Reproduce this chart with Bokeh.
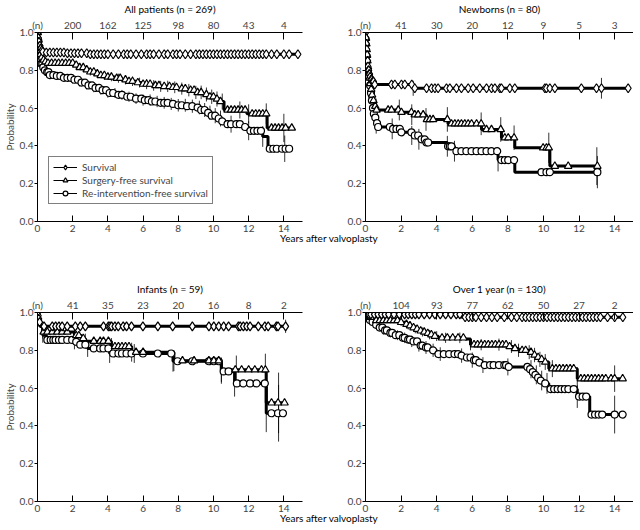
import numpy as np
from bokeh.plotting import figure
from bokeh.models import (Range1d, LinearAxis, FixedTicker, PrintfTickFormatter,
                          Legend, LegendItem, Div)
from bokeh.layouts import row, column
from bokeh.embed import file_html
from bokeh.resources import INLINE

FONT = "Lato"
X_END = 15.06
X_TICKS = [0, 2, 4, 6, 8, 10, 12, 14]
Y_TICKS = [0.0, 0.2, 0.4, 0.6, 0.8, 1.0]
XLABEL = "Years after valvoplasty"
YLABEL = "Probability"
LEGEND_LABELS = ["Survival", "Surgery-free survival", "Re-intervention-free survival"]

# ---------------- All patients ----------------
ALL_TITLE = "All patients (n = 269)"
ALL_N = ["(n)", "200", "162", "125", "98", "80", "43", "4"]
ALL_SURV_T = [0, 0.03, 0.06, 0.1, 0.15, 0.2, 0.3, 0.5, 1.6, 3.0]
ALL_SURV_S = [1.0, 0.97, 0.95, 0.93, 0.915, 0.905, 0.898, 0.894, 0.89, 0.885]
ALL_SURV_END = 14.8
ALL_SURV_MARK = [0.01, 0.02, 0.04, 0.05, 0.07, 0.08, 0.12, 0.14, 0.17, 0.19, 0.25,
                 0.3, 0.5, 0.7, 0.9, 1.1, 1.3, 1.5, 1.7, 1.9, 2.1, 2.3, 2.5, 2.8, 3.0, 3.2,
                 3.4, 3.6, 3.8, 4.0, 4.3, 4.6, 4.9, 5.1, 5.3, 5.6, 5.9, 6.2, 6.4, 6.6, 6.9,
                 7.2, 7.4, 7.7, 7.9, 8.1, 8.4, 8.7, 9.0, 9.2, 9.4, 9.6, 9.8, 10.0, 10.2,
                 10.4, 10.6, 10.8, 11.0, 11.2, 11.4, 11.6, 11.8, 12.0, 12.2, 12.4, 12.6,
                 12.8, 13.0, 13.3, 13.6, 14.0, 14.3, 14.8]
ALL_SURV_ERR_T = []
ALL_SURV_ERR_H = []

ALL_SURG_T = [0, 0.03, 0.06, 0.1, 0.15, 0.2, 0.3, 0.4, 0.5, 2.1, 2.4, 2.7, 3.0, 3.3,
              3.6, 4.0, 4.4, 4.8, 5.2, 5.6, 6.0, 6.5, 7.0, 7.6, 8.0, 8.5, 9.0, 9.4,
              9.8, 10.1, 10.4, 10.6, 11.9, 13.05]
ALL_SURG_S = [1.0, 0.96, 0.93, 0.905, 0.885, 0.87, 0.855, 0.845, 0.838, 0.828, 0.815,
              0.803, 0.792, 0.782, 0.773, 0.765, 0.758, 0.75, 0.742, 0.735, 0.727,
              0.72, 0.715, 0.71, 0.703, 0.695, 0.683, 0.672, 0.66, 0.648, 0.635,
              0.59, 0.57, 0.495]
ALL_SURG_END = 14.45
ALL_SURG_MARK = [0.02, 0.04, 0.08, 0.12, 0.17, 0.25, 0.35, 0.45,
                 0.6, 0.8, 1.0, 1.2, 1.4, 1.6, 1.8, 2.0, 2.2, 2.4, 2.6, 2.8, 3.0, 3.2,
                 3.4, 3.6, 3.8, 4.0, 4.2, 4.5, 4.7, 5.0, 5.2, 5.4, 5.7, 6.0, 6.2, 6.4,
                 6.7, 6.9, 7.2, 7.5, 7.7, 7.9, 8.2, 8.4, 8.7, 8.9, 9.1, 9.3, 9.6, 9.8,
                 10.0, 10.2, 10.4, 10.8, 11.0, 11.2, 11.4, 11.6, 11.8, 12.2, 12.4,
                 12.6, 12.8, 13.0, 13.3, 13.5, 13.7, 13.9, 14.1, 14.45]
ALL_SURG_ERR_T = [2.2, 2.6, 3.0, 3.4, 3.8, 4.2, 4.6, 5.0, 5.4, 5.8, 6.2, 6.6, 7.0, 7.4,
                  7.8, 8.2, 8.6, 9.0, 9.3, 9.6, 9.9, 10.2, 10.5, 11.5, 12.0, 13.0, 14.0]
ALL_SURG_ERR_H = [0.02, 0.02, 0.02, 0.022, 0.022, 0.023, 0.024, 0.025, 0.025, 0.026,
                  0.027, 0.028, 0.029, 0.03, 0.031, 0.032, 0.033, 0.035, 0.036, 0.037,
                  0.038, 0.04, 0.042, 0.045, 0.05, 0.055, 0.075]

ALL_REINT_T = [0, 0.03, 0.06, 0.1, 0.15, 0.2, 0.3, 0.4, 0.5, 0.7, 1.0, 1.5, 2.0, 2.4,
               2.8, 3.2, 3.6, 4.0, 4.5, 5.0, 5.5, 6.0, 6.5, 7.0, 7.5, 8.0, 8.5, 9.0,
               9.3, 9.6, 9.9, 10.2, 10.5, 10.7, 11.6, 12.0, 12.8, 13.1]
ALL_REINT_S = [1.0, 0.955, 0.92, 0.885, 0.855, 0.835, 0.815, 0.8, 0.79, 0.775, 0.77,
               0.76, 0.75, 0.735, 0.72, 0.707, 0.695, 0.68, 0.67, 0.66, 0.65, 0.642,
               0.635, 0.628, 0.622, 0.615, 0.61, 0.603, 0.59, 0.575, 0.56, 0.545,
               0.53, 0.515, 0.50, 0.48, 0.45, 0.385]
ALL_REINT_END = 14.3
ALL_REINT_MARK = [0.05, 0.09, 0.13, 0.18, 0.22, 0.28, 0.33, 0.42, 0.55, 0.62,
                  0.7, 0.9, 1.1, 1.3, 1.5, 1.7, 1.9, 2.1, 2.3, 2.5, 2.7, 2.9, 3.1, 3.3,
                  3.5, 3.7, 3.9, 4.1, 4.3, 4.6, 4.8, 5.1, 5.3, 5.6, 5.9, 6.1, 6.3, 6.5,
                  6.7, 7.0, 7.2, 7.4, 7.7, 8.0, 8.2, 8.5, 8.8, 9.1, 9.3, 9.5, 9.7, 9.9,
                  10.1, 10.3, 10.5, 10.8, 11.0, 11.3, 11.5, 11.8, 12.1, 12.3, 12.5,
                  12.7, 13.2, 13.4, 13.6, 13.9, 14.1, 14.3]
ALL_REINT_ERR_T = [1.5, 2.0, 2.4, 2.8, 3.2, 3.6, 4.0, 4.4, 4.8, 5.2, 5.6, 6.0, 6.4,
                   6.8, 7.2, 7.6, 8.0, 8.4, 8.8, 9.2, 9.5, 9.8, 10.1, 10.4, 11.0, 12.0,
                   12.8, 14.05]
ALL_REINT_ERR_H = [0.02, 0.02, 0.021, 0.022, 0.023, 0.024, 0.025, 0.026, 0.026, 0.027,
                   0.028, 0.029, 0.03, 0.03, 0.031, 0.032, 0.033, 0.034, 0.035, 0.036,
                   0.037, 0.038, 0.04, 0.042, 0.045, 0.05, 0.055, 0.07]

# ---------------- Newborns ----------------
NB_TITLE = "Newborns (n = 80)"
NB_N = ["(n)", "41", "30", "20", "12", "9", "5", "3"]
NB_SURV_T = [0, 0.02, 0.04, 0.06, 0.08, 0.1, 0.13, 0.16, 0.2, 0.25, 0.3, 0.4, 0.5, 2.68]
NB_SURV_S = [1.0, 0.97, 0.94, 0.91, 0.88, 0.85, 0.82, 0.8, 0.78, 0.765, 0.75, 0.74,
             0.725, 0.705]
NB_SURV_END = 14.76
NB_SURV_MARK = [0.01, 0.02, 0.03, 0.04, 0.05, 0.06, 0.07, 0.08, 0.09, 0.1, 0.12, 0.14,
                0.16, 0.18, 0.2, 0.23, 0.26, 0.3, 0.35, 0.4, 0.45,
                0.52, 1.46, 1.65, 2.02, 2.21, 2.6, 2.77, 3.43, 3.71, 3.90, 4.08, 4.55,
                4.74, 5.11, 5.39, 5.77, 6.05, 6.42, 6.80, 7.08, 7.27, 7.55, 7.64, 8.11,
                8.39, 10.08, 10.17, 10.36, 10.64, 12.13, 12.98, 13.26, 14.76]
NB_SURV_ERR_T = [0.3, 2.68, 13.26]
NB_SURV_ERR_H = [0.05, 0.04, 0.055]

NB_SURG_T = [0, 0.02, 0.04, 0.06, 0.08, 0.1, 0.13, 0.16, 0.2, 0.25, 0.3, 0.35, 0.4,
             0.5, 0.6, 2.0, 2.6, 3.4, 4.64, 6.52, 7.64, 8.39, 10.36]
NB_SURG_S = [1.0, 0.97, 0.94, 0.91, 0.88, 0.85, 0.82, 0.79, 0.76, 0.73, 0.7, 0.67,
             0.64, 0.61, 0.59, 0.578, 0.565, 0.54, 0.517, 0.487, 0.443, 0.39, 0.293]
NB_SURG_END = 13.03
NB_SURG_MARK = [0.03, 0.05, 0.07, 0.09, 0.11, 0.14, 0.17, 0.22, 0.27, 0.32, 0.37,
                0.45, 0.55, 0.62, 1.27, 1.46, 1.84, 2.02, 2.58, 2.77, 2.96, 3.24,
                3.45, 3.62, 3.80, 4.6, 4.83, 5.02, 5.21, 5.39, 5.58, 5.77, 5.96, 6.24,
                6.5, 6.80, 7.08, 7.6, 7.83, 8.02, 8.35, 9.98, 10.17, 10.3, 10.64,
                11.39, 13.03]
NB_SURG_ERR_T = [0.6, 1.9, 2.6, 3.4, 4.6, 6.5, 7.6, 8.35, 10.3, 13.0]
NB_SURG_ERR_H = [0.06, 0.055, 0.055, 0.06, 0.065, 0.06, 0.065, 0.065, 0.08, 0.1]

NB_REINT_T = [0, 0.02, 0.04, 0.06, 0.08, 0.1, 0.13, 0.16, 0.2, 0.25, 0.3, 0.35, 0.4,
              0.45, 0.5, 0.6, 0.7, 1.5, 2.0, 2.6, 3.0, 3.4, 4.6, 5.0, 7.45, 8.39]
NB_REINT_S = [1.0, 0.97, 0.94, 0.91, 0.88, 0.85, 0.82, 0.79, 0.76, 0.72, 0.68, 0.64,
              0.6, 0.57, 0.55, 0.52, 0.5, 0.49, 0.472, 0.455, 0.435, 0.418, 0.398,
              0.372, 0.325, 0.261]
NB_REINT_END = 13.03
NB_REINT_MARK = [0.26, 0.31, 0.36, 0.42, 0.47, 0.55, 0.65,
                 0.71, 1.37, 1.55, 1.74, 1.93, 2.02, 2.58, 2.77, 2.96, 3.15, 3.33,
                 3.43, 3.52, 4.64, 4.74, 4.83, 5.11, 5.39, 5.67, 5.96, 6.24, 6.52,
                 6.80, 7.08, 7.4, 7.64, 7.83, 8.02, 8.35, 9.89, 10.17, 10.36, 13.03]
NB_REINT_ERR_T = [0.6, 1.5, 2.6, 3.0, 4.6, 5.0, 7.45, 13.03]
NB_REINT_ERR_H = [0.055, 0.055, 0.05, 0.055, 0.055, 0.055, 0.06, 0.085]

# ---------------- Infants ----------------
INF_TITLE = "Infants (n = 59)"
INF_N = ["(n)", "41", "35", "23", "20", "16", "8", "2"]
INF_SURV_T = [0, 0.03, 0.06, 0.1, 0.15]
INF_SURV_S = [1.0, 0.983, 0.966, 0.949, 0.927]
INF_SURV_END = 14.1
INF_SURV_MARK = [0.01, 0.04, 0.07, 0.12, 0.37, 0.84, 1.03, 1.22, 1.40, 1.69, 2.15,
                 2.43, 2.72, 3.75, 4.03, 4.12, 4.21, 4.40, 4.59, 4.87, 5.06, 5.34,
                 5.99, 6.84, 7.68, 8.80, 9.74, 10.02, 10.30, 10.58, 10.86, 11.42,
                 11.52, 11.70, 11.89, 12.08, 12.55, 12.92, 13.11, 13.58, 13.67, 14.1]
INF_SURV_ERR_T = [14.1]
INF_SURV_ERR_H = [0.035]

INF_SURG_T = [0, 0.03, 0.06, 0.1, 0.15, 0.3, 2.1, 2.5, 2.72, 4.2, 5.35, 7.75, 10.45,
              13.0]
INF_SURG_S = [1.0, 0.983, 0.966, 0.949, 0.927, 0.897, 0.878, 0.863, 0.848, 0.82,
              0.79, 0.745, 0.697, 0.522]
INF_SURG_END = 14.1
INF_SURG_MARK = [0.35, 0.56, 0.84, 1.12, 1.40, 1.69, 2.2, 2.35, 2.6, 3.2, 3.56, 3.75,
                 4.03, 4.4, 4.6, 4.8, 5.0, 5.2, 5.6, 6.0, 8.24, 8.9, 9.74, 10.02,
                 10.3, 11.24, 11.6, 12.0, 12.35, 12.73, 12.95, 13.3, 13.67, 14.04]
INF_SURG_ERR_T = [0.3, 2.1, 2.72, 4.2, 5.35, 7.75, 10.45, 11.3, 12.95, 13.7]
INF_SURG_ERR_H = [0.035, 0.04, 0.04, 0.045, 0.05, 0.055, 0.065, 0.075, 0.085, 0.16]

INF_REINT_T = [0, 0.03, 0.06, 0.1, 0.15, 0.3, 0.5, 2.1, 2.3, 2.85, 4.1, 7.7, 10.45,
               11.2, 13.0]
INF_REINT_S = [1.0, 0.983, 0.966, 0.949, 0.927, 0.88, 0.855, 0.845, 0.83, 0.81,
               0.783, 0.742, 0.688, 0.625, 0.467]
INF_REINT_END = 14.1
INF_REINT_MARK = [0.56, 0.75, 0.9, 1.03, 1.22, 1.40, 1.69, 1.97, 2.2, 2.43, 2.72, 3.2,
                  3.56, 3.75, 4.03, 4.3, 4.6, 4.8, 5.06, 5.34, 5.99, 6.84, 7.6, 7.96,
                  8.8, 9.74, 10.02, 10.30, 10.58, 10.86, 11.33, 11.70, 12.08, 12.45,
                  12.92, 13.3, 13.67, 13.95]
INF_REINT_ERR_T = [0.3, 2.1, 2.85, 4.1, 5.5, 7.7, 10.45, 11.2, 13.0, 13.7]
INF_REINT_ERR_H = [0.04, 0.04, 0.045, 0.05, 0.05, 0.055, 0.065, 0.07, 0.1, 0.15]

# ---------------- Over 1 year ----------------
OV_TITLE = "Over 1 year (n = 130)"
OV_N = ["(n)", "104", "93", "77", "62", "50", "27", "2"]
OV_SURV_T = [0, 0.05, 0.15, 5.4]
OV_SURV_S = [1.0, 0.995, 0.99, 0.975]
OV_SURV_END = 14.46
OV_SURV_MARK = [0.05, 0.1, 0.2, 0.3, 0.5, 0.7, 0.9, 1.1, 1.3, 1.6, 1.9, 2.2, 2.4, 2.6,
                2.8, 3.0, 3.3, 3.6, 3.9, 4.2, 4.5, 4.8, 5.1, 5.3, 5.6, 5.8, 6.0, 6.2,
                6.5, 6.8, 7.1, 7.4, 7.8, 8.2, 8.5, 8.8, 9.0, 9.2, 9.4, 9.6, 9.8, 10.0,
                10.2, 10.4, 10.6, 10.8, 11.0, 11.2, 11.4, 11.6, 11.8, 12.0, 12.2,
                12.4, 12.6, 12.8, 13.0, 13.2, 13.6, 14.0, 14.46]
OV_SURV_ERR_T = []
OV_SURV_ERR_H = []

OV_SURG_T = [0, 0.05, 0.1, 0.2, 0.35, 0.5, 1.9, 2.2, 2.4, 2.6, 2.8, 3.0, 3.2, 3.4,
             3.6, 3.8, 4.1, 5.6, 5.9, 8.0, 8.3, 8.6, 9.2, 9.4, 9.6, 9.8, 10.0, 10.3,
             11.9]
OV_SURG_S = [1.0, 0.992, 0.985, 0.975, 0.965, 0.958, 0.948, 0.938, 0.93, 0.92, 0.912,
             0.903, 0.897, 0.89, 0.883, 0.875, 0.866, 0.86, 0.83, 0.82, 0.81, 0.8,
             0.79, 0.775, 0.763, 0.752, 0.738, 0.703, 0.65]
OV_SURG_END = 14.45
OV_SURG_MARK = [0.1, 0.3, 0.6, 0.8, 1.0, 1.2, 1.4, 1.6, 1.8, 2.0, 2.3, 2.5, 2.7, 2.9,
                3.1, 3.3, 3.5, 3.7, 3.9, 4.3, 4.6, 4.9, 5.2, 5.5, 6.1, 6.3, 6.5, 6.7,
                6.9, 7.1, 7.3, 7.5, 7.7, 7.9, 8.1, 8.4, 8.8, 9.0, 9.3, 9.5, 9.7, 9.9,
                10.1, 10.5, 10.7, 10.9, 11.1, 11.3, 11.5, 11.7, 12.1, 12.3, 12.5,
                12.7, 12.9, 13.1, 13.3, 13.5, 13.8, 14.0, 14.45]
OV_SURG_ERR_T = [2.0, 2.4, 2.8, 3.2, 3.6, 4.0, 4.5, 5.3, 5.9, 6.5, 7.5, 8.2, 8.6, 9.2,
                 9.5, 9.8, 10.1, 10.5, 11.9, 14.0]
OV_SURG_ERR_H = [0.02, 0.02, 0.022, 0.024, 0.025, 0.026, 0.027, 0.028, 0.03, 0.03,
                 0.032, 0.034, 0.035, 0.037, 0.038, 0.04, 0.042, 0.045, 0.06, 0.07]

OV_REINT_T = [0, 0.05, 0.1, 0.2, 0.3, 0.5, 0.7, 1.0, 1.3, 1.6, 2.0, 2.3, 2.6, 3.0,
              3.3, 3.6, 4.0, 5.3, 5.6, 6.0, 6.3, 6.6, 8.0, 9.2, 9.35, 9.5, 9.65, 9.8,
              10.0, 10.3, 11.9, 12.6]
OV_REINT_S = [1.0, 0.985, 0.975, 0.96, 0.95, 0.935, 0.92, 0.905, 0.892, 0.88, 0.866,
              0.857, 0.847, 0.825, 0.815, 0.8, 0.78, 0.772, 0.762, 0.748, 0.735,
              0.722, 0.712, 0.7, 0.685, 0.67, 0.655, 0.64, 0.625, 0.595, 0.555, 0.46]
OV_REINT_END = 14.45
OV_REINT_MARK = [0.15, 0.25, 0.4, 0.6, 0.8, 0.95, 1.1, 1.2, 1.4, 1.5, 1.7, 1.9, 2.1,
                 2.2, 2.4, 2.5, 2.7, 2.9, 3.1, 3.2, 3.4, 3.5, 3.8, 4.1, 4.4, 4.7, 5.0,
                 5.2, 5.4, 5.7, 5.9, 6.1, 6.2, 6.4, 6.7, 7.0, 7.2, 7.5, 7.8, 7.9,
                 8.05, 9.1, 9.25, 9.4, 9.55, 9.7, 9.85, 10.1, 10.4, 10.6, 10.8, 11.0,
                 11.2, 11.4, 11.7, 12.0, 12.2, 12.4, 12.7, 12.9, 13.1, 13.3, 14.0,
                 14.45]
OV_REINT_ERR_T = [0.6, 1.0, 1.4, 1.8, 2.2, 2.6, 3.0, 3.4, 3.8, 4.2, 5.4, 6.0, 6.6,
                  8.0, 9.3, 9.6, 9.9, 10.2, 11.9, 14.0]
OV_REINT_ERR_H = [0.02, 0.022, 0.024, 0.026, 0.028, 0.03, 0.032, 0.034, 0.035, 0.036,
                  0.038, 0.04, 0.042, 0.045, 0.048, 0.05, 0.052, 0.055, 0.06, 0.1]


def step_at(T, S, t):
    T = np.asarray(T, dtype=float)
    S = np.asarray(S, dtype=float)
    t = np.asarray(t, dtype=float)
    idx = np.searchsorted(T, t, side="right") - 1
    return S[np.clip(idx, 0, len(S) - 1)]


MARKER_STYLE = {
    "surv": dict(marker="diamond", size=9.0),
    "surg": dict(marker="triangle", size=7.5),
    "reint": dict(marker="circle", size=7.0),
}


def make_panel(title, n_labels, curves, frame_w, min_left, min_right, min_top,
               min_bottom, ylabel, legend=False):
    p = figure(frame_width=frame_w, frame_height=189,
               x_range=Range1d(0, X_END), y_range=Range1d(0, 1.0),
               output_backend="svg", toolbar_location=None, title=title,
               min_border_left=min_left, min_border_right=min_right,
               min_border_top=min_top, min_border_bottom=min_bottom)
    p.outline_line_color = None
    p.xgrid.visible = False
    p.ygrid.visible = False
    p.title.align = "center"
    p.title.text_font = FONT
    p.title.text_font_size = "10px"
    p.title.text_font_style = "normal"
    p.title.text_color = "black"
    p.title.standoff = 1

    # bottom axis
    xa = p.xaxis[0]
    xa.ticker = FixedTicker(ticks=X_TICKS)
    xa.major_tick_in = 6
    xa.major_tick_out = 0
    xa.minor_tick_line_color = None
    xa.major_label_standoff = 3
    xa.major_label_text_font = FONT
    xa.major_label_text_font_size = "10px"
    xa.axis_line_color = "black"
    xa.major_tick_line_color = "black"

    # left axis
    ya = p.yaxis[0]
    ya.ticker = FixedTicker(ticks=Y_TICKS)
    ya.formatter = PrintfTickFormatter(format="%.1f")
    ya.major_tick_in = 0
    ya.major_tick_out = 3
    ya.minor_tick_line_color = None
    ya.major_label_standoff = 1
    ya.major_label_text_font = FONT
    ya.major_label_text_font_size = "10px"
    if ylabel:
        ya.axis_label = YLABEL
        ya.axis_label_text_font = FONT
        ya.axis_label_text_font_size = "10px"
        ya.axis_label_text_font_style = "normal"
        ya.axis_label_standoff = 1

    # top axis with numbers at risk
    ta = LinearAxis(ticker=FixedTicker(ticks=X_TICKS),
                    major_label_overrides={t: lab for t, lab in zip(X_TICKS, n_labels)})
    ta.major_tick_in = 7
    ta.major_tick_out = 0
    ta.minor_tick_line_color = None
    ta.major_label_standoff = 2
    ta.major_label_text_font = FONT
    ta.major_label_text_font_size = "10px"
    p.add_layout(ta, "above")

    marker_r = {}
    thin_r = {}
    # thin copies of the curves (used as legend line samples), under everything
    for kind, T, S, end, marks, et, eh in curves:
        xs = list(T) + [end]
        ys = list(S) + [S[-1]]
        thin_r[kind] = p.step(x=xs, y=ys, mode="after", line_color="black",
                              line_width=1)
    # error bars
    for kind, T, S, end, marks, et, eh in curves:
        if len(et):
            c = step_at(T, S, et)
            h = np.asarray(eh)
            p.segment(x0=et, y0=c - h, x1=et, y1=c + h, line_color="black",
                      line_width=0.8)
    # thick step lines
    for kind, T, S, end, marks, et, eh in curves:
        xs = list(T) + [end]
        ys = list(S) + [S[-1]]
        p.step(x=xs, y=ys, mode="after", line_color="black", line_width=3)
    # markers
    for kind, T, S, end, marks, et, eh in reversed(curves):
        st = MARKER_STYLE[kind]
        marker_r[kind] = p.scatter(x=marks, y=step_at(T, S, marks),
                                   marker=st["marker"], size=st["size"],
                                   fill_color="white", line_color="black",
                                   line_width=1.2)

    if legend:
        items = [LegendItem(label=lab, renderers=[thin_r[kind], marker_r[kind]])
                 for kind, lab in zip(["surv", "surg", "reint"], LEGEND_LABELS)]
        lg = Legend(items=items, location=(11, 17))
        lg.border_line_color = "black"
        lg.border_line_width = 1
        lg.background_fill_alpha = 1.0
        lg.label_text_font = FONT
        lg.label_text_font_size = "10px"
        lg.padding = 4
        lg.spacing = 1
        lg.margin = 0
        lg.glyph_width = 24
        lg.glyph_height = 12
        lg.label_height = 12
        lg.label_standoff = 5
        p.add_layout(lg)
    return p


p1 = make_panel(ALL_TITLE, ALL_N, [
    ("surv", ALL_SURV_T, ALL_SURV_S, ALL_SURV_END, ALL_SURV_MARK, ALL_SURV_ERR_T, ALL_SURV_ERR_H),
    ("surg", ALL_SURG_T, ALL_SURG_S, ALL_SURG_END, ALL_SURG_MARK, ALL_SURG_ERR_T, ALL_SURG_ERR_H),
    ("reint", ALL_REINT_T, ALL_REINT_S, ALL_REINT_END, ALL_REINT_MARK, ALL_REINT_ERR_T, ALL_REINT_ERR_H),
], 265, 28, 19, 25, 58, True, legend=True)

p2 = make_panel(NB_TITLE, NB_N, [
    ("surv", NB_SURV_T, NB_SURV_S, NB_SURV_END, NB_SURV_MARK, NB_SURV_ERR_T, NB_SURV_ERR_H),
    ("surg", NB_SURG_T, NB_SURG_S, NB_SURG_END, NB_SURG_MARK, NB_SURG_ERR_T, NB_SURG_ERR_H),
    ("reint", NB_REINT_T, NB_REINT_S, NB_REINT_END, NB_REINT_MARK, NB_REINT_ERR_T, NB_REINT_ERR_H),
], 268, 44, 0, 25, 58, False)

p3 = make_panel(INF_TITLE, INF_N, [
    ("surv", INF_SURV_T, INF_SURV_S, INF_SURV_END, INF_SURV_MARK, INF_SURV_ERR_T, INF_SURV_ERR_H),
    ("surg", INF_SURG_T, INF_SURG_S, INF_SURG_END, INF_SURG_MARK, INF_SURG_ERR_T, INF_SURG_ERR_H),
    ("reint", INF_REINT_T, INF_REINT_S, INF_REINT_END, INF_REINT_MARK, INF_REINT_ERR_T, INF_REINT_ERR_H),
], 265, 28, 19, 33, 20, True)

p4 = make_panel(OV_TITLE, OV_N, [
    ("surv", OV_SURV_T, OV_SURV_S, OV_SURV_END, OV_SURV_MARK, OV_SURV_ERR_T, OV_SURV_ERR_H),
    ("surg", OV_SURG_T, OV_SURG_S, OV_SURG_END, OV_SURG_MARK, OV_SURG_ERR_T, OV_SURG_ERR_H),
    ("reint", OV_REINT_T, OV_REINT_S, OV_REINT_END, OV_REINT_MARK, OV_REINT_ERR_T, OV_REINT_ERR_H),
], 268, 44, 0, 33, 20, False)


def xlabel_div(left, top):
    return Div(text=XLABEL, styles={
        "position": "absolute", "left": f"{left}px", "top": f"{top}px",
        "font-family": FONT, "font-size": "10px", "line-height": "12px",
        "white-space": "nowrap", "color": "black", "z-index": "5"})


layout = column(row(p1, p2), row(p3, p4), xlabel_div(275, 227), xlabel_div(275, 507),
                styles={"position": "relative"})

open("out.html", "w").write(file_html(layout, INLINE))
